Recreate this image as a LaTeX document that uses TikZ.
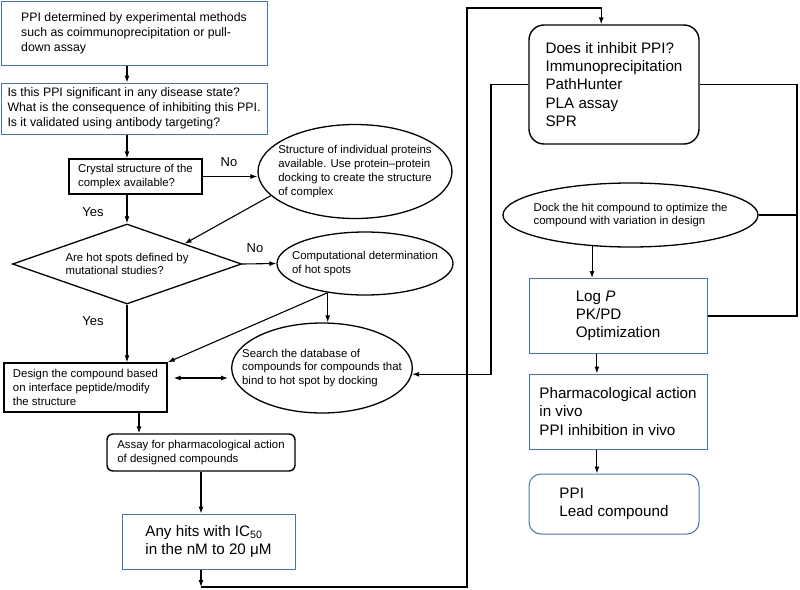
\documentclass[tikz,border=0pt]{standalone}
\usepackage{fontspec}
\setmainfont{Liberation Sans}
\usetikzlibrary{shapes.geometric,arrows.meta}
\definecolor{boxblue}{RGB}{74,116,172}

\begin{document}
\begin{tikzpicture}[x=1pt,y=-1pt,
    every node/.style={align=left,inner sep=0pt},
    smalltxt/.style={font=\fontsize{11.4}{13.8}\selectfont},
    midtxt/.style={font=\fontsize{12.3}{15}\selectfont},
    bigtxt/.style={font=\fontsize{15.2}{18.3}\selectfont},
    bluebox/.style={draw=boxblue,line width=1pt,rectangle},
    blackbox/.style={draw,line width=1.4pt,rectangle},
    oval/.style={draw,line width=1.3pt,ellipse,smalltxt},
    arr/.style={line width=1.1pt,-{Latex[length=7pt,width=5pt]}},
    darr/.style={line width=1.1pt,{Latex[length=7pt,width=5pt]}-{Latex[length=7pt,width=5pt]}},
    wire/.style={line width=1.1pt},
    yesno/.style={font=\fontsize{13}{15}\selectfont}]
  \useasboundingbox (0,0) rectangle (800,589);

  % left column
  \node[bluebox,midtxt,minimum width=266,minimum height=64] (ppi) at (134,33)
    {PPI determined by experimental methods\\such as coimmunoprecipitation or pull-\\down assay};
  \node[bluebox,midtxt,minimum width=266,minimum height=51] (sig) at (134,108.5)
    {Is this PPI significant in any disease state?\\What is the consequence of inhibiting this PPI.\\Is it validated using antibody targeting?};
  \node[blackbox,smalltxt,minimum width=133,minimum height=35] (crystal) at (135.5,176.5)
    {Crystal structure of the\\complex available?};
  \node[oval,inner xsep=-9pt,minimum width=194,minimum height=94] (indiv) at (355,171.5)
    {Structure of individual proteins\\available. Use protein–protein\\docking to create the structure\\of complex};
  \node[draw,line width=1.3pt,diamond,shape aspect=2.86,smalltxt,minimum width=229,minimum height=80] (hot) at (127,264)
    {Are hot spots defined by\\mutational studies?};
  \node[oval,inner xsep=-11pt,minimum width=176,minimum height=63] (comp) at (365,263.5)
    {Computational determination\\of hot spots};
  \node[blackbox,smalltxt,minimum width=163,minimum height=49] (design) at (85.5,387.5)
    {Design the compound based\\on interface peptide/modify\\the structure};
  \node[oval,inner xsep=-16pt,minimum width=180,minimum height=90] (search) at (322,368)
    {Search the database of\\compounds for compounds that\\bind to hot spot by docking};
  \node[blackbox,rounded corners=6pt,smalltxt,minimum width=188,minimum height=37] (assay) at (201,452.5)
    {Assay for pharmacological action\\of designed compounds};
  \node[bluebox,bigtxt,minimum width=173,minimum height=55] (hits) at (208.5,541.5)
    {Any hits with IC\textsubscript{50}\\in the nM to 20 μM};

  % right column
  \node[blackbox,rounded corners=15pt,bigtxt,minimum width=170,minimum height=119] (inhib) at (614,84.5)
    {Does it inhibit PPI?\\Immunoprecipitation\\PathHunter\\PLA assay\\SPR};
  \node[oval,inner xsep=-7pt,minimum width=255,minimum height=64] (dock) at (630.5,215)
    {Dock the hit compound to optimize the\\compound with variation in design};
  \node[bluebox,bigtxt,minimum width=178,minimum height=75] (logp) at (618,316)
    {Log \textit{P}\\PK/PD\\Optimization};
  \node[bluebox,bigtxt,minimum width=178,minimum height=75] (pharm) at (618,411.5)
    {Pharmacological action\\in vivo\\PPI inhibition in vivo};
  \node[bluebox,rounded corners=12pt,bigtxt,minimum width=170,minimum height=60] (lead) at (614,504)
    {PPI\\Lead compound};

  % labels
  \node[yesno] (no1) at (229,162) {No};
  \node[yesno] (no2) at (255,248) {No};
  \node[yesno] (yes1) at (93,212) {Yes};
  \node[yesno] (yes2) at (93,321) {Yes};

  % helper points for the long lines
  \coordinate (bot) at (201,587);
  \coordinate (upx) at (467,8);
  \coordinate (midx) at (491,0);
  \coordinate (rightx) at (797,0);

  % arrows
  \draw[arr] (ppi.south -| hot.north) -- (sig.north -| hot.north);
  \draw[arr] (sig.south -| hot.north) -- (crystal.north -| hot.north);
  \draw[arr] (crystal.south -| hot.north) -- (hot.north);
  \draw[arr] (crystal.east) -- (crystal.east -| indiv.west);
  \draw[arr] (indiv.196) -- (hot.north east);
  \draw[arr] (hot.east) -- (comp.west);
  \draw[arr] (hot.south) -- (hot.south |- design.north);
  \draw[arr] (comp.218) -- (design.north east);
  \draw[arr] (comp.218) -- (comp.218 |- search.north);
  \draw[darr] ([xshift=6pt]design.east |- 0,378) -- ([xshift=-3pt]search.west |- 0,378);
  \draw[arr] (design.south -| 139,0) -- (assay.north -| 139,0);
  \draw[arr] (assay.south) -- (assay.south |- hits.north);
  \draw[arr] (hits.south -| assay.south) -- (bot);
  \draw[arr] (bot) -| (upx) -| (inhib.102);
  \draw[arr] (inhib.west) -| (midx |- search.-4) -- (search.-4);
  \draw[wire] (inhib.east) -| (rightx |- logp.east) -- (logp.east);
  \draw[wire] (dock.east) -- (dock.east -| rightx);
  \draw[arr] (dock.219) -- (dock.219 |- logp.north);
  \draw[arr] (logp.-119) -- (logp.-119 |- pharm.north);
  \draw[arr] (pharm.-119) -- (pharm.-119 |- lead.north);
\end{tikzpicture}
\end{document}
